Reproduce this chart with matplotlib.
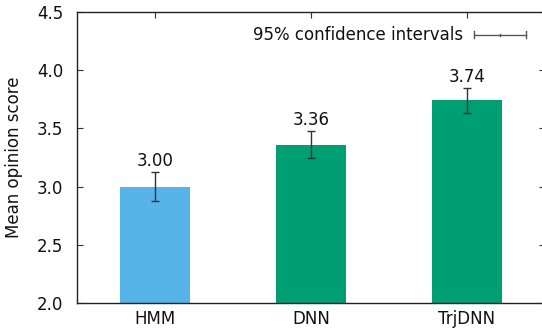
import matplotlib
matplotlib.use("Agg")
import matplotlib.pyplot as plt
from matplotlib.lines import Line2D

plt.rcParams['font.family'] = ['DejaVu Sans']

systems = ["HMM", "DNN", "TrjDNN"]
mos = [3.00, 3.36, 3.74]
ci95 = [0.125, 0.115, 0.105]
bar_colors = ["#56B4E9", "#009E73", "#009E73"]
yticks = [2.0, 2.5, 3.0, 3.5, 4.0, 4.5]

FS = 12

fig = plt.figure(figsize=(5.42, 3.30), dpi=100)
W, H = 542, 330
ax = fig.add_axes([77 / W, 27 / H, (545 - 77) / W, (303 - 12) / H])

x = list(range(len(systems)))
ax.bar(x, mos, width=0.455, color=bar_colors, zorder=2)
ax.errorbar(x, mos, yerr=ci95, fmt="none", ecolor="#333333",
            elinewidth=1.0, capsize=3, capthick=1.0, zorder=3)

for xi, m, c in zip(x, mos, ci95):
    ax.annotate(f"{m:.2f}", (xi, m + c), xytext=(0, 1.5), textcoords="offset points",
                ha="center", va="bottom", fontsize=FS, color="#111111")

ax.set_xlim(-0.5, 2.5)
ax.set_ylim(2.0, 4.5)
ax.set_xticks(x)
ax.set_xticklabels(systems)
ax.set_yticks(yticks)
ax.set_yticklabels([f"{v:.1f}" for v in yticks])
ax.tick_params(direction="in", length=4, width=0.8, top=True, right=True,
               labelsize=FS, colors="#333333", labelcolor="#111111")
ax.tick_params(axis="x", pad=5)
ax.tick_params(axis="y", pad=10)
ax.set_ylabel("Mean opinion score", fontsize=FS, color="#111111", labelpad=10)
for s in ax.spines.values():
    s.set_linewidth(1.0)
    s.set_color("#222222")

# confidence-interval key
ky = 0.922
ax.text(0.824, ky, "95% confidence intervals", transform=ax.transAxes,
        ha="right", va="center", fontsize=FS, color="#111111")
x0, x1 = 0.848, 0.959
ax.add_line(Line2D([x0, x1], [ky, ky], transform=ax.transAxes, color="#555555", lw=1.0))
for xx in (x0, x1):
    ax.add_line(Line2D([xx, xx], [ky - 0.012, ky + 0.012], transform=ax.transAxes,
                       color="#555555", lw=1.0))
ax.add_line(Line2D([(x0 + x1) / 2] * 2, [ky - 0.004, ky + 0.004], transform=ax.transAxes,
                   color="#555555", lw=1.0))

fig.savefig("out.png", dpi=100)
